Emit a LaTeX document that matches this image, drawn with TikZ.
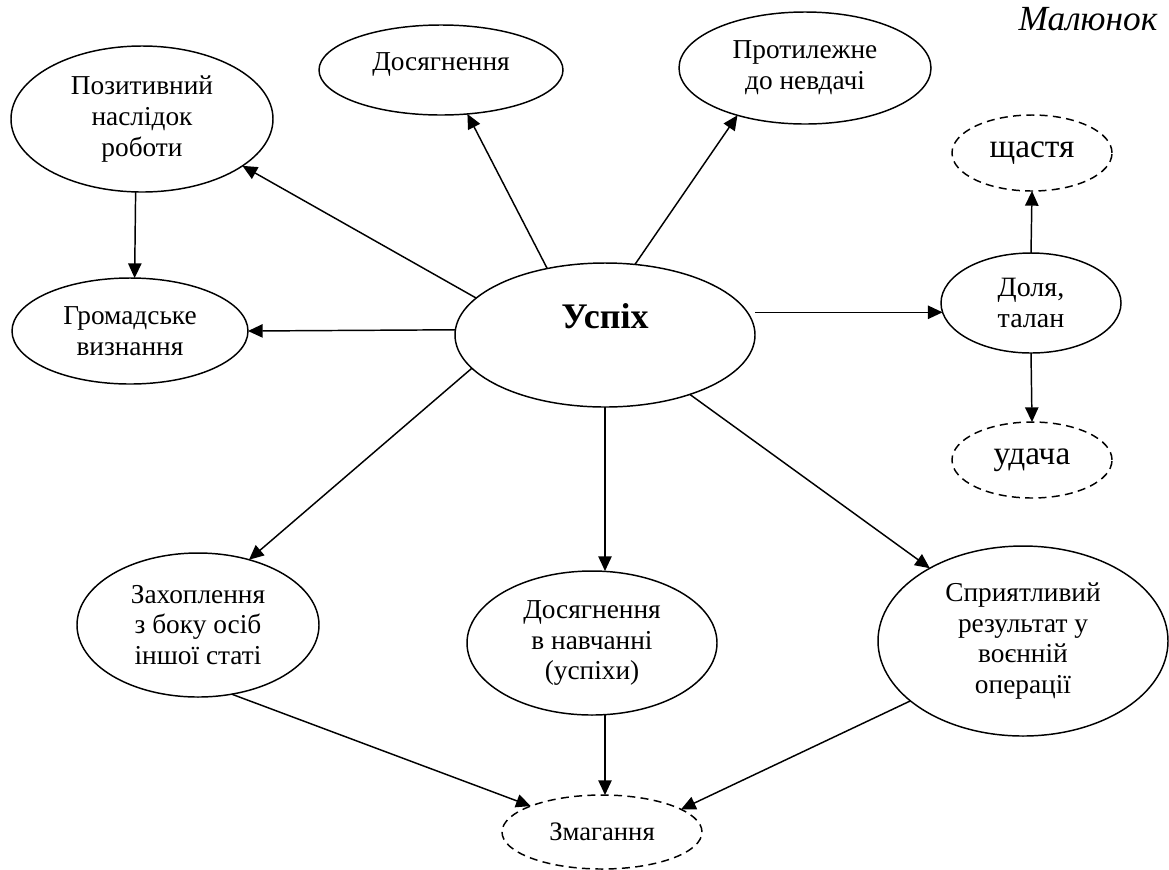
\documentclass[tikz,border=0pt]{standalone}
\usepackage{fontspec}
\setmainfont{Liberation Serif}
\usetikzlibrary{arrows.meta,shapes.geometric}
\begin{document}
\begin{tikzpicture}[x=0.75pt,y=-0.75pt,
  oval/.style={ellipse,draw,line width=1.1pt,inner sep=0pt,outer sep=0pt,align=center,
    font=\fontsize{20.5}{23}\selectfont},
  dsh/.style={oval,dash pattern=on 6pt off 4pt},
  arr/.style={-{Triangle[length=11pt,width=10pt]},line width=1.1pt}]
\useasboundingbox (0,0) rectangle (1169,869);

\node[anchor=base,font=\itshape\fontsize{26.5}{30}\selectfont] (mal) at (1088,30) {Малюнок};

\node[oval,minimum width=225pt,minimum height=108pt,font=\bfseries\fontsize{27}{32}\selectfont,
  text height=20pt,text depth=30.5pt] (us) at (605,335) {Успіх};
\node[oval,minimum width=196.5pt,minimum height=109.5pt] (pos) at (142,119) {Позитивний\\наслідок\\роботи};
\node[oval,minimum width=183pt,minimum height=67.5pt,text height=14pt,text depth=14pt] (dos) at (441,70) {Досягнення};
\node[oval,minimum width=189pt,minimum height=84pt] (prot) at (805,68) {Протилежне\\до невдачі};
\node[dsh,minimum width=120pt,minimum height=57pt,font=\fontsize{25}{30}\selectfont] (shch) at (1032,153) {щастя};
\node[oval,minimum width=177pt,minimum height=79.5pt] (grom) at (130,331) {Громадське\\визнання};
\node[oval,minimum width=135pt,minimum height=75pt,font=\fontsize{21}{23}\selectfont] (dol) at (1031,303) {Доля,\\талан};
\node[dsh,minimum width=120pt,minimum height=57pt,font=\fontsize{25}{30}\selectfont] (ud) at (1032,460) {удача};
\node[oval,minimum width=181.5pt,minimum height=108pt] (zah) at (198,625) {Захоплення\\з боку осіб\\іншої статі};
\node[oval,minimum width=187.5pt,minimum height=108pt] (nav) at (592,643) {Досягнення\\в навчанні\\(успіхи)};
\node[dsh,minimum width=150pt,minimum height=55.5pt,font=\fontsize{20}{24}\selectfont] (zm) at (602,832) {Змагання};
\node[oval,minimum width=217.5pt,minimum height=142.5pt] (spr) at (1023,641) {Сприятливий\\результат у\\воєнній\\операції};

\draw[arr] (us.164) -- (pos.-25);
\draw[arr] (us.131) -- (dos.-59);
\draw[arr] (us.67) -- (prot.215);
\draw[arr] (pos.-95) -- (grom.85);
\draw[arr] (us.178) -- (grom.east);
\draw[arr] (us.east |- dol.186) -- (dol.186);
\draw[arr] (dol.north) -- (shch.south);
\draw[arr] (dol.south) -- (ud.north);
\draw[arr] (us.194) -- (zah.52);
\draw[arr] (us.south) -- (us.south |- nav.north);
\draw[arr] (us.-35) -- (spr.142);
\draw[arr] (zah.-64) -- (zm.160);
\draw[arr] (us.south |- nav.south) -- (us.south |- zm.north);
\draw[arr] (spr.208) -- (zm.16);
\end{tikzpicture}
\end{document}
